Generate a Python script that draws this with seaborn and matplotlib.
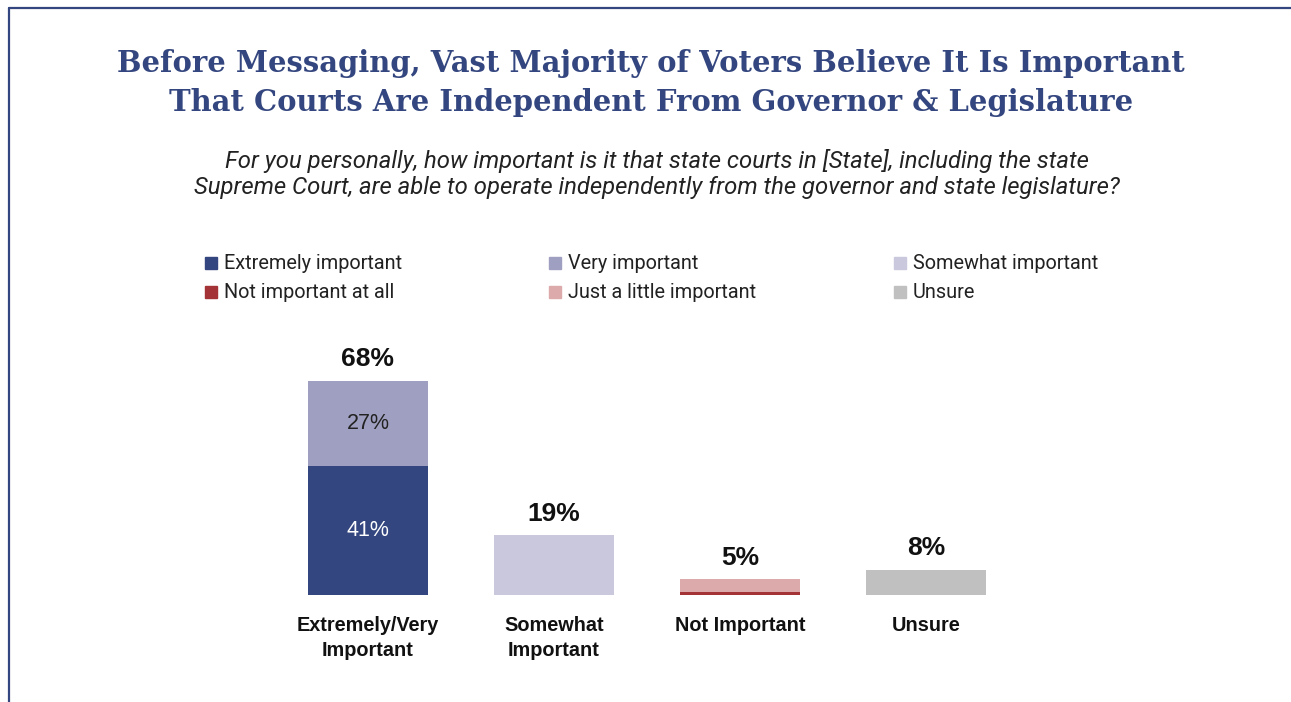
import matplotlib
matplotlib.use("Agg")
import matplotlib.pyplot as plt
import seaborn as sns
import pandas as pd
from matplotlib.patches import Rectangle
from matplotlib.lines import Line2D

# Data
categories = ["Extremely/Very\nImportant", "Somewhat\nImportant", "Not Important", "Unsure"]
totals = [68, 19, 5, 8]            # full bar height
bottom_part = [41, 0, 1, 0]        # lower stacked segment
top_colors = ["#9fa0c1", "#c9c8dc", "#dcaaab", "#c0c0c0"]
bottom_colors = ["#34467f", "#c9c8dc", "#a33337", "#c0c0c0"]
inner_labels = [("27%", 54.5), ("41%", 20.5)]

legend_labels = ["Extremely important", "Very important", "Somewhat important",
                 "Not important at all", "Just a little important", "Unsure"]
legend_colors = ["#34467f", "#9fa0c1", "#c9c8dc", "#a33337", "#dcaaab", "#c0c0c0"]

title = ("Before Messaging, Vast Majority of Voters Believe It Is Important\n"
         "That Courts Are Independent From Governor & Legislature")
subtitle = ("For you personally, how important is it that state courts in [State], including the state\n"
            "Supreme Court, are able to operate independently from the governor and state legislature?")

W, H = 1291, 702
sns.set_theme(style="white")
fig = plt.figure(figsize=(W / 100, H / 100), dpi=100)
fig.patch.set_facecolor("white")

# Frame lines (top and left)
navy = "#34467f"
fig.add_artist(Line2D([9 / W, 9 / W], [0, 1 - 8 / H], color=navy, lw=1.6, transform=fig.transFigure))
fig.add_artist(Line2D([9 / W, 1], [1 - 8 / H, 1 - 8 / H], color=navy, lw=1.6, transform=fig.transFigure))

# Title and subtitle
fig.text(651 / W, 1 - 83 / H, title, ha="center", va="center", fontsize=20.9, fontweight="bold",
         family="DejaVu Serif", color=navy, linespacing=1.4)
fig.text(657 / W, 1 - 174 / H, subtitle, ha="center", va="center", fontsize=17.2, style="italic",
         family="Roboto", color="#222222", linespacing=1.2)

# Legend (manual grid, 3 columns x 2 rows)
col_x = [205, 549, 894]
row_y = [263, 292]
for i, (lab, colr) in enumerate(zip(legend_labels, legend_colors)):
    r, c = divmod(i, 3)
    x, y = col_x[c], row_y[r]
    fig.add_artist(Rectangle((x / W, (H - y - 6) / H), 12 / W, 12 / H, color=colr,
                             transform=fig.transFigure))
    fig.text((x + 19) / W, 1 - y / H, lab, ha="left", va="center", fontsize=14.3,
             family="Roboto", color="#222222")

# Bars
ax_left, ax_right = 182, 1112
base_y, top_px = 595, 280
ax = fig.add_axes([ax_left / W, (H - base_y) / H, (ax_right - ax_left) / W, (base_y - top_px) / H])
df = pd.DataFrame({"cat": categories, "total": totals, "bottom": bottom_part})
sns.barplot(data=df, x="cat", y="total", hue="cat", palette=top_colors, legend=False,
            width=0.645, saturation=1, linewidth=0, ax=ax)
sns.barplot(data=df, x="cat", y="bottom", hue="cat", palette=bottom_colors, legend=False,
            width=0.645, saturation=1, linewidth=0, ax=ax)
ax.set_xlim(-1, 4)
ax.set_ylim(0, 100)
ax.axis("off")

for i, t in enumerate(totals):
    ax.text(i, t + 3.0, f"{t}%", ha="center", va="bottom", fontsize=19, fontweight="bold",
            family="Liberation Sans", color="#111111")
for lab, yv in inner_labels:
    ax.text(0, yv, lab, ha="center", va="center", fontsize=15.5, family="Liberation Sans",
            color="#222222" if lab == "27%" else "white")
for i, cat in enumerate(categories):
    ax.text(i, -6.6, cat, ha="center", va="top", fontsize=14.3, fontweight="bold",
            family="Liberation Sans", color="#111111", linespacing=1.4)

fig.savefig("out.png", dpi=100, facecolor="white")
